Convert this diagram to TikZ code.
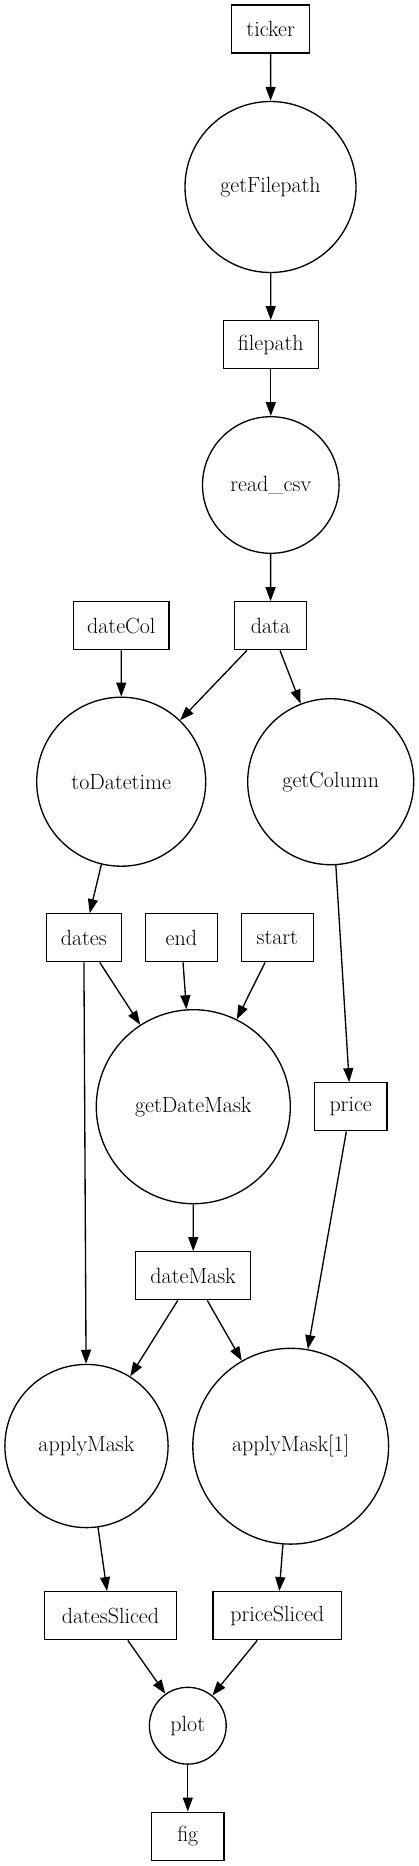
\documentclass[tikz,border=0pt]{standalone}
\usetikzlibrary{arrows.meta}
\begin{document}
\begin{tikzpicture}[x=0.75pt,y=-0.75pt,
  every node/.style={font=\fontsize{16.5}{19}\selectfont, inner sep=0pt, line width=1pt, draw},
  box/.style={rectangle, minimum height=36pt},
  fn/.style={circle},
  edge/.style={line width=1pt, -{Triangle[length=10.5pt,width=7.5pt]}}]
\useasboundingbox (0,0) rectangle (418,1866);
\node[box, minimum width=58.5pt] (ticker) at (270.7,29) {ticker};
\node[fn, minimum size=128.25pt] (getFilepath) at (270.5,187) {getFilepath};
\node[box, minimum width=71.25pt] (filepath) at (270.8,344.7) {filepath};
\node[fn, minimum size=102.45pt] (read) at (270.8,485) {read\_csv};
\node[box, minimum width=71.5pt] (dateCol) at (121.3,625.8) {dateCol};
\node[box, minimum width=54.2pt] (data) at (270.5,625.8) {data};
\node[fn, minimum size=126.75pt] (toDatetime) at (121.2,781.7) {toDatetime};
\node[fn, minimum size=124.5pt] (getColumn) at (330.7,781.7) {getColumn};
\node[box, minimum width=56.25pt] (dates) at (83.8,937.8) {dates};
\node[box, minimum width=54pt] (end) at (181.3,937.8) {end};
\node[box, minimum width=54pt] (start) at (277.3,937.8) {start};
\node[fn, minimum size=145.5pt] (getDateMask) at (193.3,1106.7) {getDateMask};
\node[box, minimum width=54.5pt] (price) at (350.7,1106.8) {price};
\node[box, minimum width=86.25pt] (dateMask) at (193.2,1275.8) {dateMask};
\node[fn, minimum size=122.4pt] (applyMask) at (86.5,1446) {applyMask};
\node[fn, minimum size=146.85pt] (applyMaskA) at (290.7,1446.2) {applyMask[1]};
\node[box, minimum width=99.2pt] (datesSliced) at (110.5,1615.7) {datesSliced};
\node[box, minimum width=96.5pt] (priceSliced) at (277.3,1615.7) {priceSliced};
\node[fn, minimum size=57.6pt] (plot) at (187.8,1725.7) {plot};
\node[box, minimum width=54.2pt] (fig) at (187.8,1836.2) {fig};

\draw[edge] (ticker) -- (getFilepath);
\draw[edge] (getFilepath) -- (filepath);
\draw[edge] (filepath) -- (read);
\draw[edge] (read) -- (data);
\draw[edge] (dateCol) -- (toDatetime);
\draw[edge] (data) -- (toDatetime);
\draw[edge] (data) -- (getColumn);
\draw[edge] (toDatetime) -- (dates);
\draw[edge] (getColumn) -- (price);
\draw[edge] (dates) -- (getDateMask);
\draw[edge] (end) -- (getDateMask);
\draw[edge] (start) -- (getDateMask);
\draw[edge] (dates) -- (applyMask);
\draw[edge] (getDateMask) -- (dateMask);
\draw[edge] (dateMask) -- (applyMask);
\draw[edge] (dateMask) -- (applyMaskA);
\draw[edge] (price) -- (applyMaskA);
\draw[edge] (applyMask) -- (datesSliced);
\draw[edge] (applyMaskA) -- (priceSliced);
\draw[edge] (datesSliced) -- (plot);
\draw[edge] (priceSliced) -- (plot);
\draw[edge] (plot) -- (fig);
\end{tikzpicture}
\end{document}
